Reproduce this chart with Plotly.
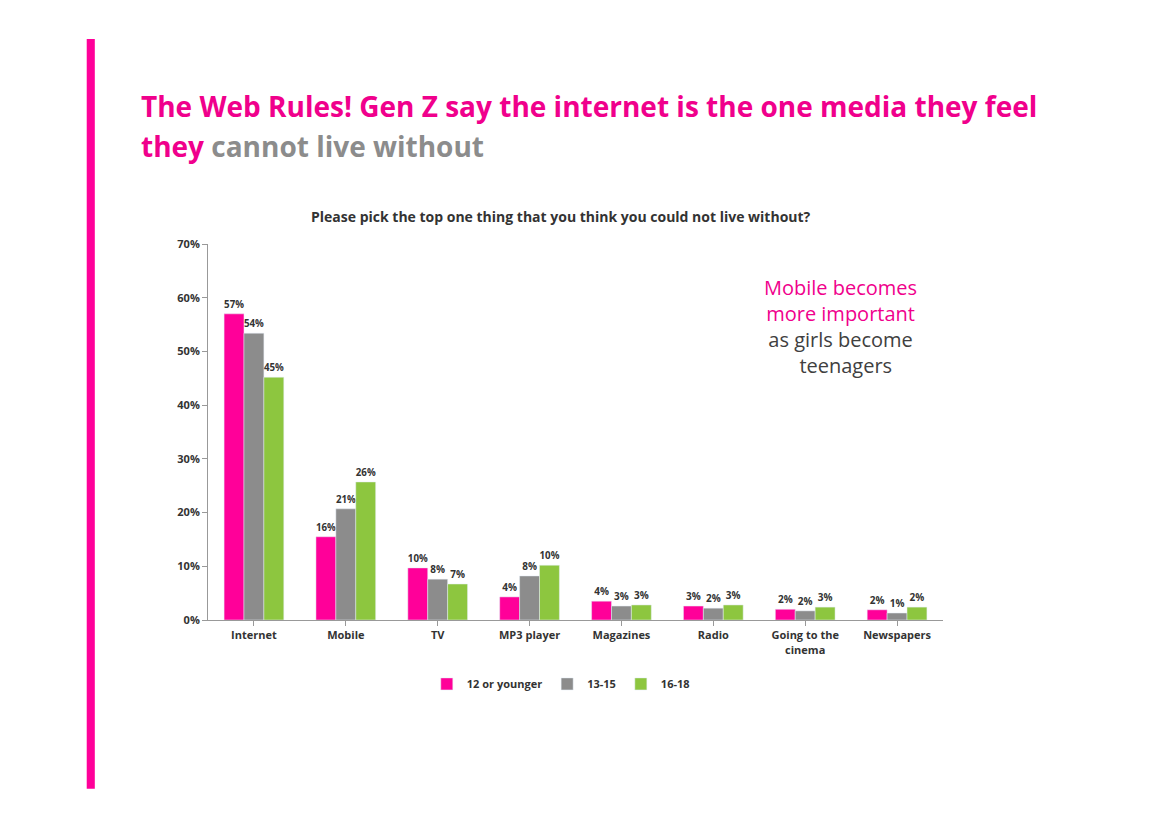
import plotly.graph_objects as go

categories = ["Internet", "Mobile", "TV", "MP3 player", "Magazines", "Radio", "Going to the<br>cinema", "Newspapers"]
series_names = ["12 or younger", "13-15", "16-18"]
vals_12 = [57.0, 15.5, 9.7, 4.3, 3.5, 2.6, 2.0, 1.9]
vals_13 = [53.4, 20.7, 7.6, 8.2, 2.6, 2.2, 1.7, 1.3]
vals_16 = [45.2, 25.7, 6.7, 10.2, 2.8, 2.8, 2.4, 2.4]
labels_12 = ["57%", "16%", "10%", "4%", "4%", "3%", "2%", "2%"]
labels_13 = ["54%", "21%", "8%", "8%", "3%", "2%", "2%", "1%"]
labels_16 = ["45%", "26%", "7%", "10%", "3%", "3%", "3%", "2%"]
colors = ["#ff0099", "#8c8c8c", "#8dc63f"]

PINK = "#f0008c"
fig = go.Figure()
for name, vals, labs, col in zip(series_names, [vals_12, vals_13, vals_16],
                                 [labels_12, labels_13, labels_16], colors):
    fig.add_trace(go.Bar(
        x=categories, y=vals, name="<b>" + name + "</b>", marker_color=col,
        text=["<b>" + l + "</b>" for l in labs], textposition="outside", cliponaxis=False,
        textfont=dict(size=10, color="#333333"),
    ))

fig.update_layout(
    width=1169, height=826,
    paper_bgcolor="white", plot_bgcolor="white",
    margin=dict(l=200, r=234, t=236, b=214),
    barmode="group", bargap=0.35, bargroupgap=0,
    font=dict(family="Open Sans", color="#333333"),
    yaxis=dict(range=[0, 70], dtick=10, tickvals=[0, 10, 20, 30, 40, 50, 60, 70],
               ticktext=["<b>%d%%</b>" % v for v in range(0, 80, 10)], showgrid=False,
               showline=True, linecolor="#999999", ticks="outside", ticklen=5,
               tickcolor="#999999", tickfont=dict(size=11, color="#333333"),
               zeroline=False),
    xaxis=dict(showline=True, linecolor="#999999", ticks="outside",
               tickvals=categories, ticktext=["<b>" + c + "</b>" for c in categories],
               tickcolor="#999999", tickfont=dict(size=11, color="#333333")),
    legend=dict(orientation="h", x=0.48, xanchor="center", y=-0.17, yanchor="middle",
                font=dict(size=11, color="#333333")),
)

fig.add_shape(type="rect", xref="paper", yref="paper", x0=-0.165, x1=-0.154,
              y0=-0.449, y1=1.545, fillcolor="#ff0099", line_width=0)
fig.add_annotation(xref="paper", yref="paper", x=-0.094, y=1.367, xanchor="left", yanchor="middle",
                   text="<b>The Web Rules! Gen Z say the internet is the one media they feel</b>",
                   showarrow=False, font=dict(size=28, color=PINK))
fig.add_annotation(xref="paper", yref="paper", x=-0.094, y=1.261, xanchor="left", yanchor="middle",
                   text="<b>they <span style='color:#8c8c8c'>cannot live without</span></b>",
                   showarrow=False, font=dict(size=28, color=PINK))
fig.add_annotation(xref="paper", yref="paper", x=0.48, y=1.074, xanchor="center", yanchor="middle",
                   text="<b>Please pick the top one thing that you think you could not live without?</b>",
                   showarrow=False, font=dict(size=14, color="#333333"))
fig.add_annotation(xref="paper", yref="paper", x=0.86, y=0.78, xanchor="center", yanchor="middle",
                   text="<span style='color:#f0008c'>Mobile becomes<br>more important</span><br>as girls become<br>  teenagers",
                   showarrow=False, align="center", font=dict(size=20, color="#404040"))
fig.write_html("out.html")
